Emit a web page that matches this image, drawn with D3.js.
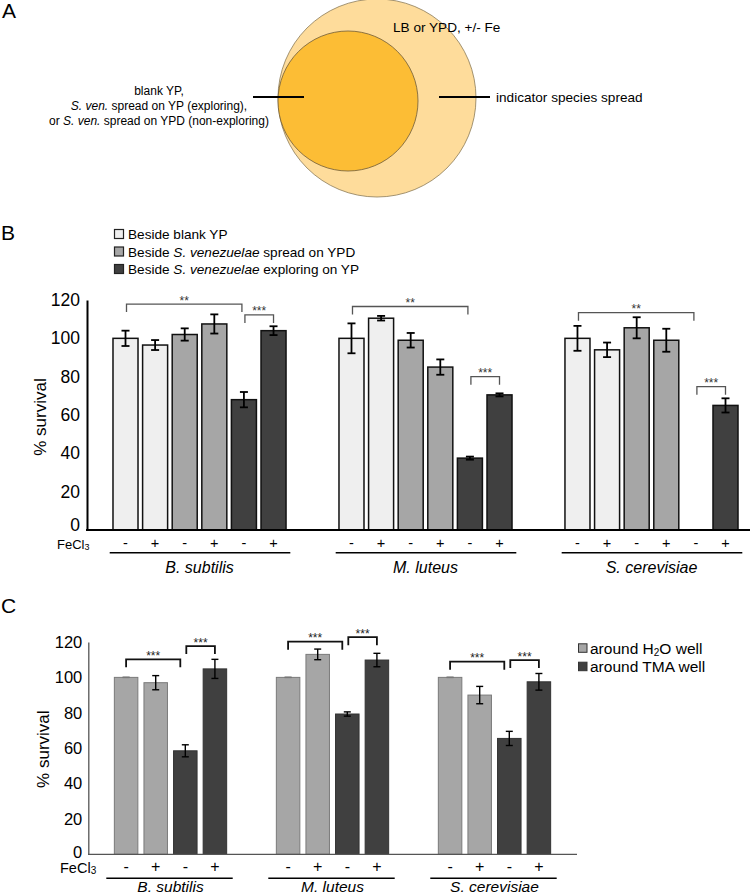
<!DOCTYPE html>
<html><head><meta charset="utf-8">
<script src="https://cdn.jsdelivr.net/npm/d3@7/dist/d3.min.js"></script>
<style>body{margin:0;background:#fff}svg{display:block;font-family:"Liberation Sans",Arial,sans-serif}</style>
</head><body>
<svg id="c" width="750" height="896"></svg>
<script>
// ---------- Panel B data ----------
const speciesB = ["B. subtilis", "M. luteus", "S. cerevisiae"];
const seriesB = ["Beside blank YP", "Beside S. venezuelae spread on YPD", "Beside S. venezuelae exploring on YP"];
const signsB = ["-", "+", "-", "+", "-", "+"];
const bsubB = [100, 96.5, 102, 107.5, 68, 104];
const bsubErrB = [4, 2.6, 3.2, 5, 4, 2.3];
const mlutB = [100, 110.5, 99, 85, 37.5, 70.5];
const mlutErrB = [7.8, 1.2, 3.8, 4, 0.8, 0.8];
const scerB = [100, 94, 105.5, 99, null, 65];
const scerErrB = [6.5, 3.8, 5.5, 6, null, 3.7];
const ticksB = [0, 20, 40, 60, 80, 100, 120];
// brackets: [species index, from bar, to bar, level (% survival), label]
const bracketsB = [[0, 0, 4, 117.9, "**"], [0, 4, 5, 112.2, "***"], [1, 0, 4, 116.6, "**"], [1, 4, 5, 80, "***"], [2, 0, 4, 113.4, "**"], [2, 4, 5, 74.8, "***"]];

// ---------- Panel C data ----------
const speciesC = ["B. subtilis", "M. luteus", "S. cerevisiae"];
const seriesC = ["around H2O well", "around TMA well"];
const signsC = ["-", "+", "-", "+"];
const bsubC = [100, 97, 58.5, 104.8];
const bsubErrC = [0, 4, 3.4, 5.4];
const mlutC = [100, 113, 79.3, 109.8];
const mlutErrC = [0, 3, 1.2, 3.8];
const scerC = [100, 90, 65.5, 97.5];
const scerErrC = [0, 4.9, 4, 4.7];
const ticksC = [0, 20, 40, 60, 80, 100, 120];
const bracketsC = [[0, 0, 2, 110.2, "***"], [0, 2, 3, 117.7, "***"], [1, 0, 2, 120.2, "***"], [1, 2, 3, 122.7, "***"], [2, 0, 2, 108.9, "***"], [2, 2, 3, 109.8, "***"]];

const colorsB = ["#efefef", "#a6a6a6", "#404040"];
const colorsC = ["#a6a6a6", "#404040"];

const svg = d3.select("#c");
const FONT = '"Liberation Sans",Arial,sans-serif';

// ---------- Panel A ----------
svg.append("text").attr("x", 2).attr("y", 18).attr("font-size", 21).text("A");
svg.append("circle").attr("cx", 377).attr("cy", 98).attr("r", 99).attr("fill", "#fedc9b").attr("stroke", "#8c7b58").attr("stroke-width", 0.8);
svg.append("circle").attr("cx", 348).attr("cy", 101).attr("r", 70).attr("fill", "#fcbd35").attr("stroke", "#6e5c3a").attr("stroke-width", 0.8);
svg.append("line").attr("x1", 253).attr("x2", 304).attr("y1", 97).attr("y2", 97).attr("stroke", "#000").attr("stroke-width", 2);
svg.append("line").attr("x1", 439).attr("x2", 490).attr("y1", 97).attr("y2", 97).attr("stroke", "#000").attr("stroke-width", 2);
svg.append("text").attr("x", 393).attr("y", 32).attr("font-size", 13.6).text("LB or YPD, +/- Fe");
svg.append("text").attr("x", 496).attr("y", 101.5).attr("font-size", 13.6).text("indicator species spread");
const leftA = svg.append("text").attr("font-size", 12).attr("text-anchor", "middle");
leftA.append("tspan").attr("x", 159).attr("y", 95).text("blank YP,");
const l2 = leftA.append("tspan").attr("x", 159).attr("y", 110);
l2.append("tspan").attr("font-style", "italic").text("S. ven.");
l2.append("tspan").text(" spread on YP (exploring),");
const l3 = leftA.append("tspan").attr("x", 159).attr("y", 125);
l3.append("tspan").text("or ");
l3.append("tspan").attr("font-style", "italic").text("S. ven.");
l3.append("tspan").text(" spread on YPD (non-exploring)");

// helper for text with italic species
function richText(sel, label) {
  const m = label.match(/^(.*?)(S\. venezuelae)(.*)$/);
  if (m) {
    sel.append("tspan").text(m[1]);
    sel.append("tspan").attr("font-style", "italic").text(m[2]);
    sel.append("tspan").text(m[3]);
  } else sel.text(label);
}

// ---------- Panel B ----------
svg.append("text").attr("x", 1).attr("y", 240).attr("font-size", 21).text("B");
const legB = svg.append("g");
seriesB.forEach((s, i) => {
  const cy = 234 + i * 17.5;
  legB.append("rect").attr("x", 114.5).attr("y", cy - 4.5).attr("width", 9).attr("height", 9)
    .attr("fill", colorsB[i]).attr("stroke", "#222").attr("stroke-width", 1.2);
  richText(legB.append("text").attr("x", 128).attr("y", cy + 5).attr("font-size", 13.6), s);
});

const xB = d3.scaleBand().domain(speciesB).range([110.7, 740.3]).paddingInner(0.214).paddingOuter(0);
const xBi = d3.scaleBand().domain(d3.range(6)).range([0, xB.bandwidth()]).paddingInner(0.155).paddingOuter(0.0775);
const yB = d3.scaleLinear().domain([0, 120]).range([530, 300]);
const dataB = [bsubB, mlutB, scerB].map((vals, si) => vals.map((v, i) => ({
  sp: speciesB[si], i, v, e: [bsubErrB, mlutErrB, scerErrB][si][i]
}))).flat().filter(d => d.v != null);

const gB = svg.append("g");
gB.selectAll("rect.bar").data(dataB).join("rect").attr("class", "bar")
  .attr("x", d => xB(d.sp) + xBi(d.i)).attr("width", xBi.bandwidth())
  .attr("y", d => yB(d.v)).attr("height", d => yB(0) - yB(d.v))
  .attr("fill", d => colorsB[Math.floor(d.i / 2)]).attr("stroke", "#111").attr("stroke-width", 1.5);
const errB = gB.selectAll("g.err").data(dataB).join("g").attr("class", "err")
  .attr("stroke", "#000").attr("stroke-width", 1.8);
errB.append("line").attr("x1", d => xB(d.sp) + xBi(d.i) + xBi.bandwidth() / 2).attr("x2", d => xB(d.sp) + xBi(d.i) + xBi.bandwidth() / 2)
  .attr("y1", d => yB(d.v - d.e)).attr("y2", d => yB(d.v + d.e));
[-1, 1].forEach(s => {
  errB.append("line").attr("x1", d => xB(d.sp) + xBi(d.i) + xBi.bandwidth() / 2 - 4).attr("x2", d => xB(d.sp) + xBi(d.i) + xBi.bandwidth() / 2 + 4)
    .attr("y1", d => yB(d.v + s * d.e)).attr("y2", d => yB(d.v + s * d.e));
});

// axes B
const axB = svg.append("g").attr("transform", "translate(87,0)")
  .call(d3.axisLeft(yB).tickValues(ticksB).tickSize(0).tickSizeOuter(0).tickPadding(7));
axB.select(".domain").attr("stroke", "#000").attr("stroke-width", 2);
axB.selectAll("text").attr("font-size", 17.5).attr("font-family", FONT).attr("fill", "#000");
axB.selectAll(".tick").filter(d => d === 0).select("text").attr("dy", "0.05em");
svg.append("line").attr("x1", 86).attr("x2", 750).attr("y1", yB(0)).attr("y2", yB(0)).attr("stroke", "#000").attr("stroke-width", 2);
svg.append("text").attr("transform", `translate(46,${(yB(60) + 2)}) rotate(-90)`).attr("text-anchor", "middle")
  .attr("font-size", 17).text("% survival");

// brackets B
const cB = (sp, i) => xB(speciesB[sp]) + xBi(i) + xBi.bandwidth() / 2;
bracketsB.forEach(([sp, a, b, lvl, lab]) => {
  const y0 = yB(lvl);
  const x1 = cB(sp, a) + 1, x2 = cB(sp, b) - (b - a > 1 ? 2 : 0);
  svg.append("path").attr("d", `M${x1},${y0 + 8}V${y0}H${x2}V${y0 + 8}`)
    .attr("fill", "none").attr("stroke", "#555").attr("stroke-width", 1.3);
  svg.append("text").attr("x", (x1 + x2) / 2).attr("y", y0 + 0.5).attr("text-anchor", "middle")
    .attr("font-size", 12).attr("fill", "#333").text(lab);
});

// x labels B
const fe = svg.append("text").attr("x", 57).attr("y", 549).attr("font-size", 13);
fe.append("tspan").text("FeCl");
fe.append("tspan").attr("font-size", 9).attr("dy", 1).text("3");
speciesB.forEach((sp, si) => {
  signsB.forEach((s, i) => {
    svg.append("text").attr("x", cB(si, i)).attr("y", 547.5).attr("text-anchor", "middle").attr("font-size", 14.5).text(s);
  });
  svg.append("line").attr("x1", xB(sp) - 1).attr("x2", xB(sp) + xB.bandwidth() + 2).attr("y1", 552.7).attr("y2", 552.7)
    .attr("stroke", "#000").attr("stroke-width", 1.6);
  svg.append("text").attr("x", xB(sp) + xB.bandwidth() / 2).attr("y", 572.5).attr("text-anchor", "middle")
    .attr("font-size", 16).attr("font-style", "italic").text(sp);
});

// ---------- Panel C ----------
svg.append("text").attr("x", 1).attr("y", 613).attr("font-size", 21).text("C");
const xC = d3.scaleBand().domain(speciesC).range([111.3, 553.7]).paddingInner(0.269).paddingOuter(0);
const xCi = d3.scaleBand().domain(d3.range(4)).range([0, xC.bandwidth()]).paddingInner(0.206).paddingOuter(0.103);
const yC = d3.scaleLinear().domain([0, 120]).range([854.3, 642]);
const dataC = [bsubC, mlutC, scerC].map((vals, si) => vals.map((v, i) => ({
  sp: speciesC[si], i, v, e: [bsubErrC, mlutErrC, scerErrC][si][i]
}))).flat();
const cC = (sp, i) => xC(speciesC[sp]) + xCi(i) + xCi.bandwidth() / 2;
const gC = svg.append("g");
gC.selectAll("rect").data(dataC).join("rect")
  .attr("x", d => xC(d.sp) + xCi(d.i)).attr("width", xCi.bandwidth())
  .attr("y", d => yC(d.v)).attr("height", d => yC(0) - yC(d.v))
  .attr("fill", d => colorsC[Math.floor(d.i / 2)]).attr("stroke", d => d.i < 2 ? "#7a7a7a" : "#333").attr("stroke-width", 1);
const errC = gC.selectAll("g.err").data(dataC).join("g").attr("class", "err")
  .attr("stroke", d => d.e === 0 ? "#777" : "#000").attr("stroke-width", 1.4);
errC.append("line").attr("x1", d => xC(d.sp) + xCi(d.i) + xCi.bandwidth() / 2).attr("x2", d => xC(d.sp) + xCi(d.i) + xCi.bandwidth() / 2)
  .attr("y1", d => yC(d.v - d.e)).attr("y2", d => yC(d.v + d.e));
[-1, 1].forEach(s => {
  errC.append("line").attr("x1", d => xC(d.sp) + xCi(d.i) + xCi.bandwidth() / 2 - 3.5).attr("x2", d => xC(d.sp) + xCi(d.i) + xCi.bandwidth() / 2 + 3.5)
    .attr("y1", d => yC(d.v + s * d.e)).attr("y2", d => yC(d.v + s * d.e));
});
const axC = svg.append("g").attr("transform", "translate(88.3,0)")
  .call(d3.axisLeft(yC).tickValues(ticksC).tickSize(0).tickSizeOuter(0).tickPadding(6));
axC.select(".domain").attr("stroke", "#555").attr("stroke-width", 1.3);
axC.selectAll("text").attr("font-size", 16.5).attr("font-family", FONT).attr("fill", "#000");
axC.selectAll(".tick").filter(d => d === 0).select("text").attr("dy", "0.2em");
svg.append("line").attr("x1", 88).attr("x2", 577).attr("y1", yC(0)).attr("y2", yC(0)).attr("stroke", "#555").attr("stroke-width", 1.3);
svg.append("text").attr("transform", `translate(49,${yC(60) + 1}) rotate(-90)`).attr("text-anchor", "middle")
  .attr("font-size", 17).text("% survival");
bracketsC.forEach(([sp, a, b, lvl, lab]) => {
  const y0 = yC(lvl);
  const x1 = cC(sp, a) + (a > 0 ? 1 : 0), x2 = cC(sp, b) - (b - a > 1 ? 5 : 0);
  svg.append("path").attr("d", `M${x1},${y0 + 8}V${y0}H${x2}V${y0 + 8}`)
    .attr("fill", "none").attr("stroke", "#111").attr("stroke-width", 1.8);
  svg.append("text").attr("x", (x1 + x2) / 2).attr("y", y0 + 0.5).attr("text-anchor", "middle")
    .attr("font-size", 12).attr("fill", "#222").text(lab);
});
const feC = svg.append("text").attr("x", 60).attr("y", 873).attr("font-size", 14.5);
feC.append("tspan").text("FeCl");
feC.append("tspan").attr("font-size", 10).attr("dy", 1).text("3");
speciesC.forEach((sp, si) => {
  signsC.forEach((s, i) => {
    svg.append("text").attr("x", cC(si, i)).attr("y", 872).attr("text-anchor", "middle").attr("font-size", 16).text(s);
  });
  svg.append("line").attr("x1", xC(sp) - 5).attr("x2", xC(sp) + xC.bandwidth() + 3).attr("y1", 878.3).attr("y2", 878.3)
    .attr("stroke", "#000").attr("stroke-width", 1.6);
  svg.append("text").attr("x", xC(sp) + xC.bandwidth() / 2).attr("y", 892).attr("text-anchor", "middle")
    .attr("font-size", 15.5).attr("font-style", "italic").text(sp);
});
// legend C
seriesC.forEach((s, i) => {
  const cy = 648.3 + i * 18.4;
  svg.append("rect").attr("x", 578.5).attr("y", cy - 4.5).attr("width", 8.5).attr("height", 8.5)
    .attr("fill", colorsC[i]).attr("stroke", "#333").attr("stroke-width", 1);
  const t = svg.append("text").attr("x", 590).attr("y", cy + 5.5).attr("font-size", 15.5);
  const m = s.match(/^(.*H)2(O.*)$/);
  if (m) {
    t.append("tspan").text(m[1]);
    t.append("tspan").attr("font-size", 10).attr("dy", 2).text("2");
    t.append("tspan").attr("dy", -2).text(m[2]);
  } else t.text(s);
});
</script>
</body></html>
